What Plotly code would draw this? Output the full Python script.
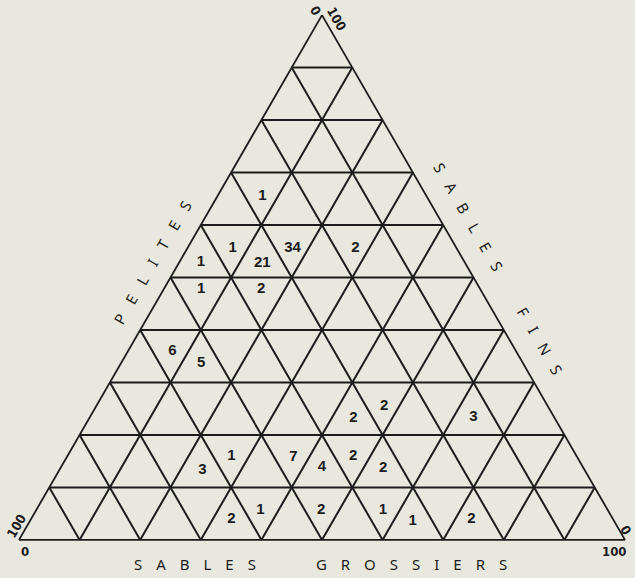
import plotly.graph_objects as go

W, H = 635, 578

# number of samples per cell, placed at the centre of the cell (in %)
counts = [1, 1, 34, 2, 1, 21, 1, 2, 6, 5, 2, 2, 3, 1, 7, 2, 3, 4, 2, 1, 2, 2, 1, 1, 2]
sables_fins = [65.5, 55.5, 55.5, 55.6, 53.0, 52.7, 47.7, 47.7, 36.0, 33.7, 25.5, 23.2, 23.4,
               15.9, 15.8, 15.9, 13.3, 13.8, 13.6, 5.7, 3.9, 5.7, 5.7, 3.5, 3.9]
sables_grossiers = [7.4, 7.5, 17.4, 27.7, 3.5, 13.8, 6.2, 16.1, 7.3, 13.2, 47.5, 43.6, 63.3,
                    27.1, 37.4, 47.2, 23.6, 43.1, 53.3, 37.0, 33.1, 47.0, 57.2, 63.2, 72.7]
pelites = [round(100 - f - g, 1) for f, g in zip(sables_fins, sables_grossiers)]

bg = '#e8e8df'
ink = '#1c1c1c'


def spaced(word, gap='\u2002\u2009\u2009\u200a'):
    return gap.join(word)


def px(x, y):
    # pixel position -> paper coordinates
    return x / W, 1 - y / H


fig = go.Figure()
fig.add_trace(go.Scatterternary(
    a=sables_fins, b=pelites, c=sables_grossiers,
    mode='text',
    text=[str(n) for n in counts],
    textposition='middle center',
    textfont=dict(family='Liberation Sans, Arial, sans-serif', size=15, color=ink, weight='bold'),
    hoverinfo='skip',
    showlegend=False,
))

axis_style = dict(
    min=0, dtick=10, showticklabels=False, ticks='',
    showline=True, linecolor=ink, linewidth=1.8,
    showgrid=True, gridcolor=ink, gridwidth=1.6,
    title=dict(text=''),
)

fig.update_layout(
    width=W, height=H,
    margin=dict(l=0, r=0, t=0, b=0),
    paper_bgcolor=bg,
    ternary=dict(
        sum=100,
        bgcolor=bg,
        domain=dict(x=[19 / W, 625 / W], y=[38 / H, (38 + 525) / H]),
        aaxis=axis_style,
        baxis=axis_style,
        caxis=axis_style,
    ),
    showlegend=False,
)

title_font = dict(family='Noto Sans, DejaVu Sans, sans-serif', size=15, color=ink)
num_font = dict(family='Liberation Sans Narrow, DejaVu Sans Condensed, sans-serif', size=13,
                color=ink, weight='bold')

labels = [
    # text, x, y, angle, font
    (spaced('SABLES') + '\u2003' * 4 + spaced('GROSSIERS'), 320, 564, 0, title_font),
    (spaced('PELITES'), 152, 263, -60, title_font),
    (spaced('SABLES') + '\u2003' * 3 + spaced('FINS'), 498, 268, 60, title_font),
    ('0', 25, 551, 0, num_font),
    ('100', 16, 526, -60, num_font),
    ('100', 614, 551, 0, num_font),
    ('0', 626, 530, 60, num_font),
    ('0', 315, 11, 60, num_font),
    ('100', 336, 19, 60, num_font),
]
for text, x, y, angle, font in labels:
    xp, yp = px(x, y)
    fig.add_annotation(
        text=text, x=xp, y=yp, xref='paper', yref='paper',
        showarrow=False, textangle=angle, font=font,
        xanchor='center', yanchor='middle',
    )

# drop the default page margin so the figure sits flush with the window
fig.write_html("out.html", config={'displayModeBar': False},
               post_script="document.body.style.margin='0';")
